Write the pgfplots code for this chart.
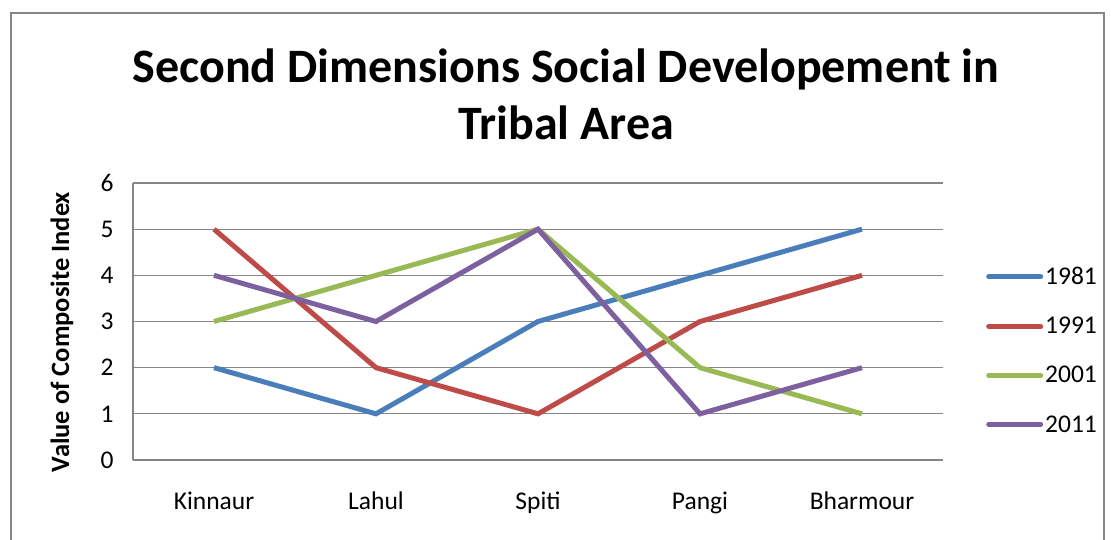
\documentclass[border=0pt]{standalone}
\usepackage{fontspec}
\setmainfont{Carlito}
\usepackage{pgfplots}
\pgfplotsset{compat=1.18}
\definecolor{c1}{HTML}{4A7EBB}
\definecolor{c2}{HTML}{BE4B48}
\definecolor{c3}{HTML}{98B954}
\definecolor{c4}{HTML}{7D60A0}
\definecolor{gridc}{HTML}{868686}
\begin{document}
\begin{tikzpicture}
\useasboundingbox (0pt,0pt) rectangle (1111pt,540pt);
\draw[gridc, line width=1.5pt] (11pt,-10pt) rectangle (1104pt,527pt);
\node[font=\fontsize{48}{57}\selectfont\bfseries, align=center] at (566pt,446pt) {Second Dimensions Social Developement in\\Tribal Area};
\node[rotate=90, font=\fontsize{26.5}{30}\selectfont\bfseries] at (62pt,208pt) {Value of Composite Index};
\begin{axis}[
  at={(133pt,80pt)}, anchor=south west,
  scale only axis, width=810pt, height=277pt,
  xmin=-0.5, xmax=4.5, ymin=0, ymax=6,
  xtick={0,1,2,3,4},
  xticklabels={Kinnaur,Lahul,Spiti,Pangi,Bharmour},
  ytick={0,1,2,3,4,5,6},
  ymajorgrids,
  grid style={gridc, line width=1.2pt},
  axis x line*=bottom, axis y line*=left,
  axis line style={gridc, line width=1.2pt, -},
  tick style={draw=none},
  major tick length=0pt,
  tick label style={font=\fontsize{25.5}{30}\selectfont},
  /pgf/number format/assume math mode=true,
  yticklabel style={xshift=-16pt},
  xticklabel style={yshift=-28pt},
  legend style={at={(1.0,0.5)}, anchor=west, xshift=40pt, yshift=-29pt, draw=none, fill=none,
    font=\fontsize{25.5}{30}\selectfont, row sep=27pt},
  legend cell align=left,
  legend image code/.code={\draw[#1, line width=5pt, line cap=round] (0pt,0pt) -- (52pt,0pt);},
  every axis plot/.append style={line width=5pt, line join=miter},
  clip=false,
]
\addplot[c1, mark=none] coordinates {(0,2) (1,1) (2,3) (3,4) (4,5)};
\addlegendentry{1981}
\addplot[c2, mark=none] coordinates {(0,5) (1,2) (2,1) (3,3) (4,4)};
\addlegendentry{1991}
\addplot[c3, mark=none] coordinates {(0,3) (1,4) (2,5) (3,2) (4,1)};
\addlegendentry{2001}
\addplot[c4, mark=none] coordinates {(0,4) (1,3) (2,5) (3,1) (4,2)};
\addlegendentry{2011}
\end{axis}
\end{tikzpicture}
\end{document}
